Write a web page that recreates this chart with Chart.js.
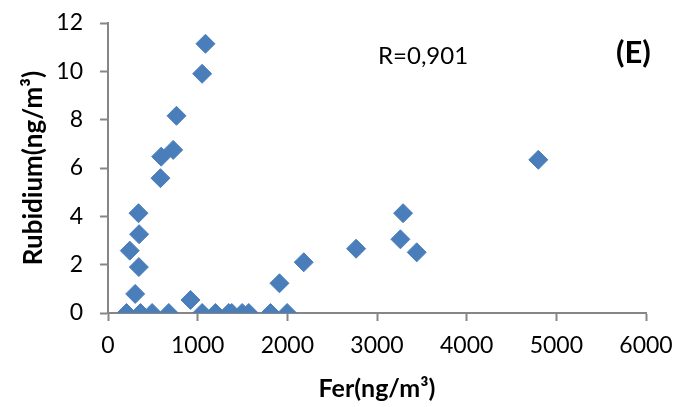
<!DOCTYPE html>
<html>
<head>
<meta charset="utf-8">
<script src="https://cdn.jsdelivr.net/npm/chart.js@4"></script>
<style>
  html, body { margin: 0; padding: 0; background: #fff; }
  #wrap { width: 684px; height: 407px; }
</style>
</head>
<body>
<div id="wrap"><canvas id="scatter-chart"></canvas></div>
<script>
// Fer (x) and Rubidium (y)
const fer = [1087, 1050, 764, 727, 593, 585, 340, 347, 243, 344, 303, 920, 1912,
  206, 362, 492, 678, 1050, 1198, 1347, 1380, 1496, 1570, 1812, 1998,
  2183, 2767, 3291, 3261, 3443, 4799];
const rubidium = [11.14, 9.90, 8.16, 6.75, 6.47, 5.58, 4.13, 3.26, 2.58, 1.90, 0.79, 0.54, 1.23,
  0, 0, 0, 0, 0, 0, 0, 0, 0, 0, 0, 0,
  2.10, 2.66, 4.13, 3.05, 2.51, 6.34];
const xTicks = [0, 1000, 2000, 3000, 4000, 5000, 6000];
const yTicks = [0, 2, 4, 6, 8, 10, 12];

const axisColor = '#868686';
const font = 'Lato, "Liberation Sans", sans-serif';

// extra labels on the plot
const notes = {
  id: 'notes',
  afterDraw(chart) {
    const ctx = chart.ctx;
    ctx.save();
    ctx.fillStyle = '#000';
    ctx.textBaseline = 'middle';
    ctx.textAlign = 'left';
    ctx.font = '24px ' + font;
    ctx.fillText('R=0,901', 378, 56);
    ctx.font = 'bold 31px ' + font;
    ctx.fillText('(E)', 616, 53);
    ctx.restore();
  }
};

function main() {
  const canvas = document.querySelector('#scatter-chart');
  new Chart(canvas.getContext('2d'), {
    type: 'scatter',
    data: {
      datasets: [{
        data: fer.map((x, i) => ({ x: x, y: rubidium[i] })),
        pointStyle: 'rectRot',
        pointRadius: 9.5,
        pointHoverRadius: 9.5,
        backgroundColor: '#4A7EBB',
        borderColor: '#4A7EBB',
        borderWidth: 1,
      }]
    },
    options: {
      responsive: true,
      maintainAspectRatio: false,
      animation: false,
      layout: { padding: { left: 0, right: 38, top: 23, bottom: 0 } },
      plugins: {
        legend: { display: false },
        tooltip: { enabled: false },
      },
      scales: {
        x: {
          type: 'linear',
          min: 0,
          max: 6000,
          afterBuildTicks: scale => { scale.ticks = xTicks.map(v => ({ value: v })); },
          afterFit: scale => {
            scale.height = 94;
            scale.paddingLeft = 0;
            scale.paddingRight = 0;
          },
          border: { color: axisColor, width: 2 },
          grid: { drawOnChartArea: false, tickLength: 8, tickColor: axisColor, tickWidth: 2 },
          ticks: {
            color: '#000',
            font: { family: font, size: 23 },
            padding: 11,
            maxRotation: 0,
            callback: v => String(v)
          },
          title: {
            display: true,
            text: 'Fer(ng/m³)',
            color: '#000',
            font: { family: font, size: 25, weight: 'bold' },
            padding: { top: 0, bottom: 3 }
          }
        },
        y: {
          type: 'linear',
          min: 0,
          max: 12,
          afterBuildTicks: scale => { scale.ticks = yTicks.map(v => ({ value: v })); },
          afterFit: scale => {
            scale.width = 108;
            scale.paddingTop = 0;
            scale.paddingBottom = 0;
          },
          border: { color: axisColor, width: 2 },
          grid: { drawOnChartArea: false, tickLength: 8, tickColor: axisColor, tickWidth: 2 },
          ticks: {
            color: '#000',
            font: { family: font, size: 23 },
            padding: 17,
            callback: v => String(v)
          },
          title: {
            display: true,
            text: 'Rubidium(ng/m³)',
            color: '#000',
            font: { family: font, size: 26, weight: 'bold' },
            padding: { top: 18, bottom: 0 }
          }
        }
      }
    },
    plugins: [notes]
  });
}

main();
</script>
</body>
</html>
